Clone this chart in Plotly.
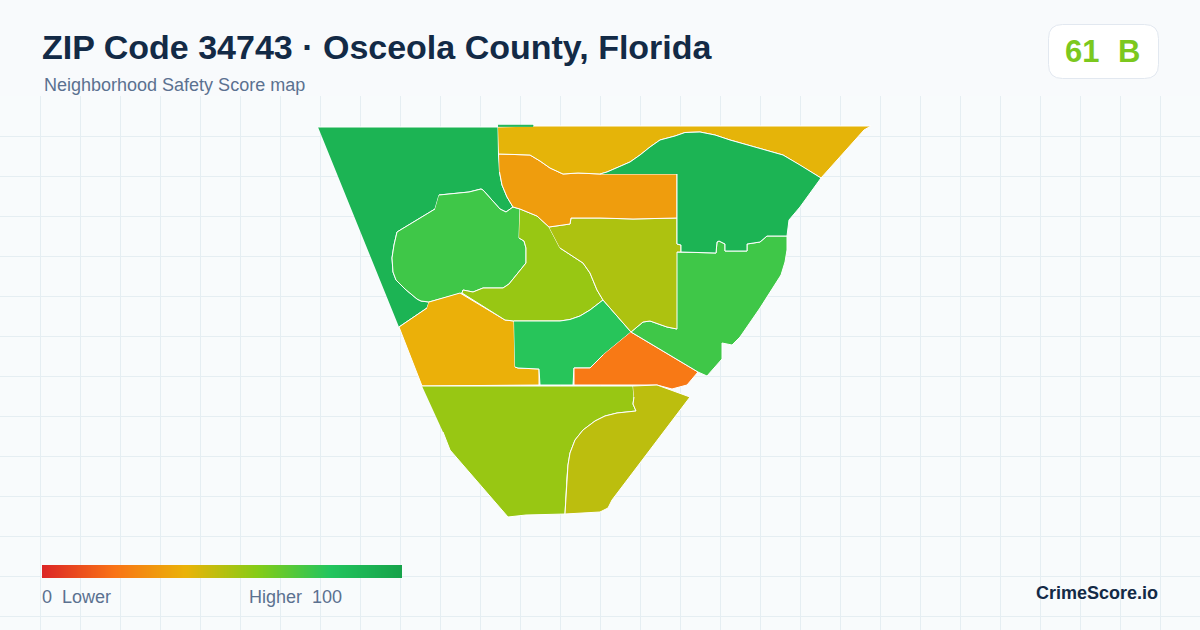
import plotly.graph_objects as go
import numpy as np

TITLE = "ZIP Code 34743 · Osceola County, Florida"
SUBTITLE = "Neighborhood Safety Score map"
SCORE_VALUE = "61"
SCORE_GRADE = "B"
BRAND = "CrimeScore.io"
LEGEND_LOW = "0\u00a0\u00a0Lower"
LEGEND_HIGH = "Higher\u00a0\u00a0100"

SCALE_STOPS = [0, 20, 40, 60, 80, 100]
SCALE_COLORS = ["#dc2626", "#f97316", "#eab308", "#84cc16", "#22c55e", "#16a34a"]

west_green = [(318,127),(498,127),(498.5,155),(499.5,172),(502,185),(507,197),(513,207),(506,212),(500,209),(483,190),(481,189),(469,192),(439,195),(435,209),(397,232),(394,245),(392,258),(393,272),(396,280),(405,289),(417,299),(421,301),(429,302),(427,308),(399,327)]
west_sliver = [(498,125.3),(533,125.3),(533,126.3),(498,126.3)]
west_light = [(439,195),(469,192),(481,189),(483,190),(500,209),(506,212),(513,207),(520,209),(519,238),(524,241),(526,248),(526,263),(509,284),(503,288),(483,288),(473,292),(463,290),(462,293),(429,302),(421,301),(417,299),(405,289),(396,280),(393,272),(392,258),(394,245),(397,232),(435,209)]
south_west_amber = [(429,302),(460,293),(505,320),(514,321),(515,367),(518,368),(539,369),(539,385),(422,386),(399,327),(427,308)]
central_lime = [(520,209),(537,216),(549,227),(560,248),(583,263),(590,273),(597,290),(603,300),(590,310),(580,316),(570,319.5),(560,321),(514,321),(505,320),(462,293),(463,290),(473,292),(483,288),(503,288),(509,284),(526,263),(526,248),(524,241),(519,238)]
central_green = [(514,321),(560,321),(570,319.5),(580,316),(590,310),(603,300),(631,332),(603,355),(590,368),(574,368),(573,385),(540,385),(539,369),(518,368),(515,367)]
south_orange = [(631,332),(698,372),(687,385),(672,389),(657,385),(574,385),(574,368),(590,368),(603,355)]
east_light = [(677,252),(716,253),(717,242),(719,241),(725,244),(725,251),(747,251),(747,244),(760,242),(767,236),(787,236),(787,250),(785,262),(781,275),(760,308),(747,327),(740,337),(732,345),(722,343),(722,359),(707,376),(698,372),(631,332),(643,322),(650,321),(667,327),(677,329)]
central_olive = [(549,227),(570,224),(571,218),(600,218),(633,219),(677,218),(677,244),(681,245),(681,252),(677,252),(677,329),(667,327),(650,321),(643,322),(631,332),(603,300),(597,290),(590,273),(583,263),(560,248)]
north_orange = [(499,154),(530,155),(540,161),(550,168),(563,174),(578,173),(600,174),(677,174),(677,218),(633,219),(600,218),(571,218),(570,224),(549,227),(537,216),(520,209),(513,207),(507,197),(502,185),(499.5,172)]
north_amber = [(498,127),(535,126),(871,126),(864,130),(821,178),(800,165),(783,155),(730,140),(715,135),(700,132),(685,132.5),(675,136),(660,140),(650,147),(640,155),(630,162),(607,172),(600,174),(578,173),(563,174),(550,168),(540,161),(530,155),(499,154)]
north_green = [(600,174),(607,172),(630,162),(640,155),(650,147),(660,140),(675,136),(685,132.5),(700,132),(715,135),(730,140),(783,155),(800,165),(821,178),(800,207),(789,220),(787,236),(767,236),(760,242),(747,244),(747,251),(725,251),(725,244),(719,241),(717,242),(716,253),(681,252),(681,245),(677,244),(677,174)]
south_lime = [(422,386),(633,386),(634,397),(633,404),(636,411),(617,413),(605,416),(595,421),(583,430),(575,440),(570,453),(568,465),(567,477),(565,514),(526,515),(508,517),(450,450),(443,432)]
south_olive = [(633,386),(657,385),(690,397),(612,500),(608,508),(600,512),(565,514),(567,477),(568,465),(570,453),(575,440),(583,430),(595,421),(605,416),(617,413),(636,411),(633,404),(634,397)]

regions = [west_green, west_light, south_west_amber, central_lime, central_green, south_orange,
           east_light, central_olive, north_orange, north_amber, north_green, south_lime, south_olive, west_sliver]
region_scores = [90, 74, 39, 56, 79, 22, 74, 52, 33, 41, 90, 56, 49, 90]


def hex_rgb(h):
    return np.array([int(h[i:i + 2], 16) for i in (1, 3, 5)], dtype=float)


def score_color(s):
    c = [np.interp(s, SCALE_STOPS, [hex_rgb(k)[i] for k in SCALE_COLORS]) for i in range(3)]
    return "rgb(%d,%d,%d)" % tuple(round(v) for v in c)


fig = go.Figure()
N = 360
fig.add_trace(go.Heatmap(
    z=[list(np.linspace(0, 100, N))], x0=42 + 0.5, dx=1, y0=571.5, dy=13,
    colorscale=[[s / 100, c] for s, c in zip(SCALE_STOPS, SCALE_COLORS)],
    zmin=0, zmax=100, showscale=False, hoverinfo="skip"))

for poly, score in zip(regions, region_scores):
    xs, ys = zip(*poly)
    outline = score_color(score) if poly is west_sliver else "white"
    fig.add_trace(go.Scatter(
        x=list(xs), y=list(ys), mode="lines", fill="toself", fillcolor=score_color(score),
        line=dict(color=outline, width=1), hoverinfo="skip", showlegend=False))

W, H = 1200, 630
def px(x): return x / W
def py(y): return 1 - y / H

def note(text, x, y, size, color, bold=False, xanchor="left", family="Liberation Sans"):
    fig.add_annotation(text=f"<b>{text}</b>" if bold else text, x=px(x), y=py(y), xref="paper", yref="paper",
                       xanchor=xanchor, yanchor="middle", showarrow=False,
                       font=dict(size=size, color=color, family=family), borderpad=0, borderwidth=0)

note(TITLE, 42, 47, 34, "#132a46", True)
note(SUBTITLE, 44, 85, 18, "#5b7190")
note(SCORE_VALUE, 1065, 51, 31, "#7cc81e", True)
note(SCORE_GRADE, 1118, 51, 31, "#7cc81e", True)
note(LEGEND_LOW, 42, 597, 18, "#5b7190")
note(LEGEND_HIGH, 342, 597, 18, "#5b7190", False, "right")
note(BRAND, 1158, 593, 18, "#132a46", True, "right")

x0, x1, y0, y1, r = px(1048.5), px(1158.5), py(24.5), py(78.5), 14
rx, ry = r / W, r / H
card = (f"M {x0+rx} {y0} L {x1-rx} {y0} Q {x1} {y0} {x1} {y0-ry} L {x1} {y1+ry} Q {x1} {y1} {x1-rx} {y1} "
        f"L {x0+rx} {y1} Q {x0} {y1} {x0} {y1+ry} L {x0} {y0-ry} Q {x0} {y0} {x0+rx} {y0} Z")
fig.add_shape(type="path", path=card, xref="paper", yref="paper", fillcolor="white",
              line=dict(color="#e2e8f0", width=1), layer="below")

fig.update_layout(
    width=W, height=H, autosize=False, margin=dict(l=0, r=0, t=0, b=0),
    paper_bgcolor="#f8fafc", plot_bgcolor="#f8fbfc", showlegend=False,
    xaxis=dict(range=[0, 1200], tick0=0, dtick=40, showticklabels=False, ticks="", zeroline=False,
               showgrid=True, gridcolor="#e5eef2", gridwidth=1, showline=False, fixedrange=True),
    yaxis=dict(range=[630, 96], domain=[0, 534 / 630], tick0=96, dtick=40, showticklabels=False, ticks="",
               zeroline=False, showgrid=True, gridcolor="#e5eef2", gridwidth=1, showline=False, fixedrange=True),
)
fig.write_html("out.html", config={"displayModeBar": False},
               post_script="document.body.style.margin='0';document.documentElement.style.overflow='hidden';")
